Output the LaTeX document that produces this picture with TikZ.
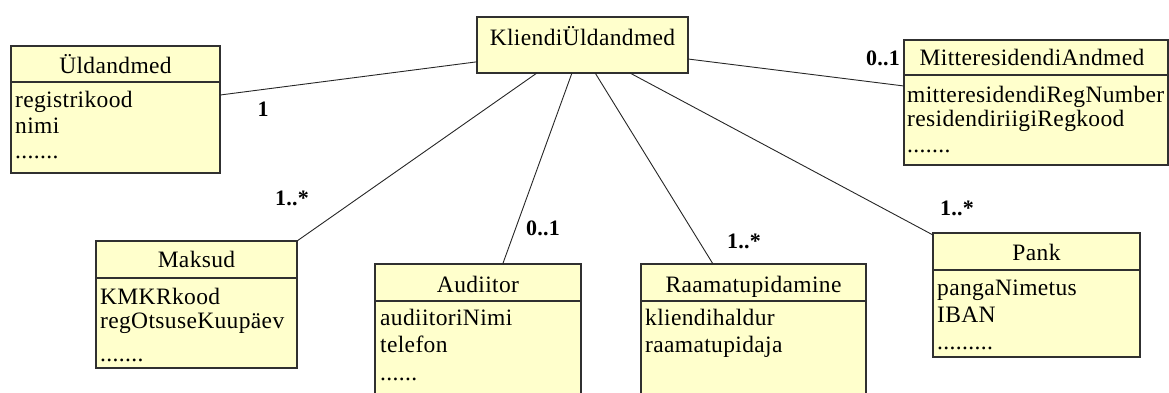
\documentclass[tikz,border=0pt]{standalone}
\usepackage{fontspec}
\setmainfont{Liberation Serif}[LetterSpace=1.5]
\usetikzlibrary{calc}
\definecolor{boxfill}{HTML}{FFFFCC}
\definecolor{boxline}{HTML}{303030}
\tikzset{
  umlbox/.style={draw=boxline, fill=boxfill, line width=1.3pt, rectangle,
    inner sep=0pt, outer sep=0pt, anchor=north west},
  divider/.style={draw=boxline, line width=1.3pt},
  classname/.style={anchor=base, inner sep=0pt, font=\fontsize{23.5}{26}\selectfont},
  attr/.style={anchor=base west, inner sep=0pt, font=\fontsize{23.5}{26}\selectfont},
  mult/.style={anchor=base, inner sep=0pt, font=\bfseries\fontsize{22}{26}\selectfont},
  assoc/.style={draw=black!85, line width=0.9pt},
}
\begin{document}
\begin{tikzpicture}[x=1pt,y=-1pt]
\useasboundingbox (0,0) rectangle (1169,392);
\clip (0,0) rectangle (1169,392);

% ---- class boxes ----
\node[umlbox, minimum width=209pt, minimum height=127pt] (uld) at (11,46) {};
\node[umlbox, minimum width=211pt, minimum height=56pt]  (kd)  at (477,17) {};
\node[umlbox, minimum width=264pt, minimum height=125pt] (mit) at (904,40) {};
\node[umlbox, minimum width=201pt, minimum height=127pt] (mak) at (96,241) {};
\node[umlbox, minimum width=206pt, minimum height=140pt] (aud) at (375,264) {};
\node[umlbox, minimum width=225pt, minimum height=140pt] (raa) at (641,264) {};
\node[umlbox, minimum width=207pt, minimum height=124pt] (pan) at (933,233) {};

% ---- name / attribute separators ----
\draw[divider] ($(uld.north west)+(0,36)$) -- ($(uld.north east)+(0,36)$);
\draw[divider] ($(mit.north west)+(0,35)$) -- ($(mit.north east)+(0,35)$);
\draw[divider] ($(mak.north west)+(0,37)$) -- ($(mak.north east)+(0,37)$);
\draw[divider] ($(aud.north west)+(0,37)$) -- ($(aud.north east)+(0,37)$);
\draw[divider] ($(raa.north west)+(0,37)$) -- ($(raa.north east)+(0,37)$);
\draw[divider] ($(pan.north west)+(0,37)$) -- ($(pan.north east)+(0,37)$);

% ---- class names ----
\node[classname] (uldN) at (115.5,73) {Üldandmed};
\node[classname] (kdN)  at (582.5,45) {KliendiÜldandmed};
\node[classname] (mitN) at (1032,65)  {MitteresidendiAndmed};
\node[classname] (makN) at (196.5,267) {Maksud};
\node[classname] (audN) at (478,292)  {Audiitor};
\node[classname] (raaN) at (753.5,292) {Raamatupidamine};
\node[classname] (panN) at (1036.5,260) {Pank};

% ---- attributes ----
\node[attr] (uldA1) at (15,107) {registrikood};
\node[attr] (uldA2) at (15,133) {nimi};
\node[attr] (uldA3) at (15,158) {.......};

\node[attr] (mitA1) at (907,102) {mitteresidendiRegNumber};
\node[attr] (mitA2) at (907,126) {residendiriigiRegkood};
\node[attr] (mitA3) at (907,152) {.......};

\node[attr] (makA1) at (100,304) {KMKRkood};
\node[attr] (makA2) at (100,328) {regOtsuseKuupäev};
\node[attr] (makA3) at (100,361) {.......};

\node[attr] (audA1) at (380,325) {audiitoriNimi};
\node[attr] (audA2) at (380,352) {telefon};
\node[attr] (audA3) at (380,380) {......};

\node[attr] (raaA1) at (645,325) {kliendihaldur};
\node[attr] (raaA2) at (645,352) {raamatupidaja};

\node[attr] (panA1) at (937,295) {pangaNimetus};
\node[attr] (panA2) at (937,322) {IBAN};
\node[attr] (panA3) at (937,349) {.........};

% ---- associations ----
\draw[assoc] ($(uld.north east)!0.386!(uld.south east)$) -- ($(kd.north west)!0.80!(kd.south west)$);
\draw[assoc] ($(kd.north east)!0.75!(kd.south east)$) -- ($(mit.north west)!0.368!(mit.south west)$);
\draw[assoc] (mak.north east) -- ($(kd.south west)!0.284!(kd.south east)$);
\draw[assoc] ($(aud.north west)!0.62!(aud.north east)$) -- ($(kd.south west)!0.45!(kd.south east)$);
\draw[assoc] ($(raa.north west)!0.32!(raa.north east)$) -- ($(kd.south west)!0.56!(kd.south east)$);
\draw[assoc] ($(pan.north west)+(0,2)$) -- ($(kd.south west)!0.725!(kd.south east)$);

% ---- multiplicities ----
\node[mult] (m1) at (263,116) {1};
\node[mult] (m2) at (292,205) {1..*};
\node[mult] (m3) at (543,235) {0..1};
\node[mult] (m4) at (744,248) {1..*};
\node[mult] (m5) at (957,215) {1..*};
\node[mult] (m6) at (883,65)  {0..1};
\end{tikzpicture}
\end{document}
